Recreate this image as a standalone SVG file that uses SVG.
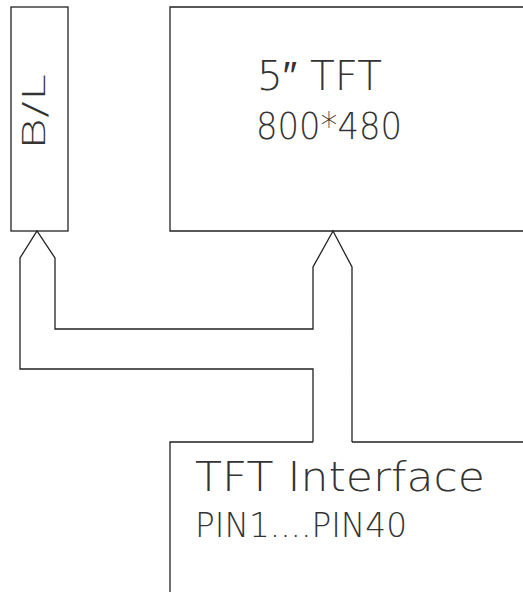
<svg xmlns="http://www.w3.org/2000/svg" width="523" height="592" viewBox="0 0 523 592">
<style>
.box{fill:none;stroke:#222;stroke-width:1.3}
.wire{fill:none;stroke:#222;stroke-width:1.3;stroke-linejoin:miter}
.t{font-family:"DejaVu Sans ExtraLight","DejaVu Sans",sans-serif;font-weight:200;fill:#333}
</style>
<rect width="523" height="592" fill="#fff"/>
<g id="bl">
<rect class="box" x="11" y="7" width="57" height="224"/>
<text class="t" font-size="32" transform="translate(45,150) rotate(-90)" textLength="76" lengthAdjust="spacingAndGlyphs">B/L</text>
</g>
<g id="tft">
<path class="box" d="M530,7 H170 V231 H530"/>
<text class="t" font-size="40" x="257" y="90" textLength="125" lengthAdjust="spacingAndGlyphs">5″ TFT</text>
<text class="t" font-size="38" x="256" y="139" textLength="146" lengthAdjust="spacingAndGlyphs">800*480</text>
</g>
<g id="interface">
<path class="box" d="M313,442 H170 V600"/>
<path class="box" d="M352,442 H530"/>
<text class="t" font-size="41" x="195" y="491" textLength="290" lengthAdjust="spacingAndGlyphs">TFT Interface</text>
<text class="t" font-size="34" x="195" y="537" textLength="212" lengthAdjust="spacingAndGlyphs">PIN1....PIN40</text>
</g>
<g id="connectors">
<path class="wire" d="M313,442 V369 H20 V258 L37,231 L55,258 V329 H313 V267 L333,231 L352,267 V442"/>
</g>
</svg>
